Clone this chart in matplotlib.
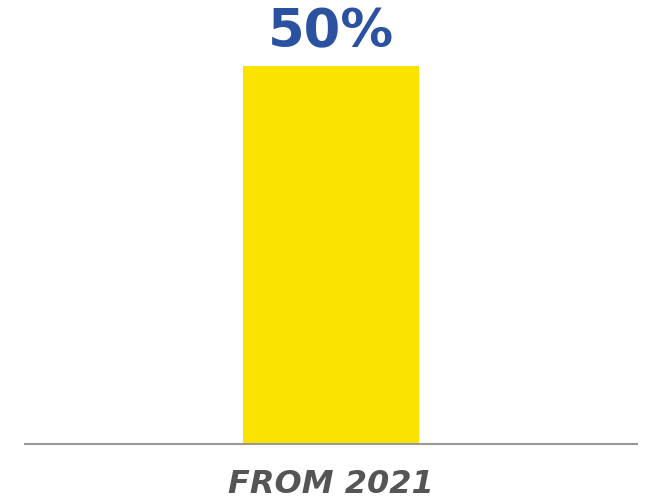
import matplotlib.pyplot as plt

# chart data
categories = ['FROM 2021']
values = [50]
value_labels = ['50%']

fig = plt.figure(figsize=(6.51, 5.01), dpi=100)
# axes spans the baseline width, top of axes at top of figure
ax = fig.add_axes([25 / 651, 57 / 501, 612 / 651, 444 / 501])

ax.bar(range(len(categories)), values, width=0.578, color='#FAE300')
ax.set_xlim(-1, 1)
ax.set_ylim(0, 50 * 444 / 378)

# value label above the bar
for i, (v, lab) in enumerate(zip(values, value_labels)):
    ax.annotate(lab, (i, v), xytext=(0, 13.5), textcoords='offset points',
                ha='center', va='baseline', fontsize=38, color='#2A52A0',
                family='DejaVu Sans', fontweight='semibold')

# category label below the baseline
for i, cat in enumerate(categories):
    ax.annotate(cat, (i, 0), xytext=(0, -35), textcoords='offset points',
                ha='center', va='baseline', fontsize=23, color='#555555',
                family='DejaVu Sans', fontweight='heavy', style='italic')

for side in ['top', 'right', 'left']:
    ax.spines[side].set_visible(False)
ax.spines['bottom'].set_color('#999999')
ax.spines['bottom'].set_linewidth(1.5)
ax.set_xticks([])
ax.set_yticks([])

fig.savefig('out.png', dpi=100)
